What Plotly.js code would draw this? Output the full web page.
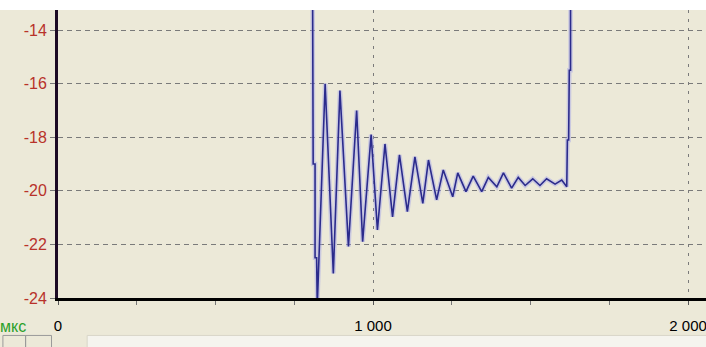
<!DOCTYPE html>
<html>
<head>
<meta charset="utf-8">
<script src="https://cdn.plot.ly/plotly-3.0.1.min.js"></script>
<style>
html,body{margin:0;padding:0;background:#ECE9D8;}
#chart{width:706px;height:347px;}
</style>
</head>
<body>
<div id="chart"></div>
<script>
// time, microseconds
var timeUs = [808, 808, 810, 810, 816, 816, 821, 823,
  848, 874, 895, 922, 948, 967, 994, 1014, 1038, 1062, 1084, 1109, 1133, 1158,
  1176, 1202, 1223, 1253, 1269, 1295, 1318, 1345, 1366, 1393, 1414, 1440,
  1461, 1483, 1507, 1530, 1551, 1578, 1599, 1615, 1617, 1621, 1623, 1627, 1627];
// signal value
var signal = [-12, -15.87, -15.87, -19.0, -19.0, -22.5, -22.5, -24.3,
  -16.0, -23.08, -16.26, -22.08, -17.0, -21.9, -17.9, -21.46, -18.25, -20.97, -18.66, -20.78, -18.73, -20.47,
  -18.85, -20.34, -19.22, -20.22, -19.33, -20.03, -19.45, -20.03, -19.5, -19.85, -19.33, -19.9,
  -19.5, -19.8, -19.55, -19.8, -19.55, -19.75, -19.6, -19.85, -18.1, -18.1, -15.5, -15.5, -12];

var xTickVals = [0, 1000, 2000];
var xTickText = ['0', '1 000', '2 000'];
var yTickVals = [-24, -22, -20, -18, -16, -14];
var yTickText = ['-24', '-22', '-20', '-18', '-16', '-14'];
var xUnit = 'мкс';

var labelFont = 'Liberation Sans, Arial, sans-serif';

var halo = {
  x: timeUs, y: signal, type: 'scatter', mode: 'lines',
  line: {color: 'rgba(160,160,235,0.45)', width: 4.5},
  hoverinfo: 'skip'
};
var trace = {
  x: timeUs, y: signal, type: 'scatter', mode: 'lines',
  line: {color: '#2b2b8c', width: 1.6},
  hoverinfo: 'skip'
};

var layout = {
  width: 706, height: 347,
  margin: {l: 58, r: 0, t: 10, b: 49},
  paper_bgcolor: '#ECE9D8',
  plot_bgcolor: '#ECE9D8',
  showlegend: false,
  font: {family: labelFont, size: 15, color: '#000'},
  xaxis: {
    range: [0, 2057], fixedrange: true,
    tickvals: xTickVals, ticktext: xTickText,
    ticks: 'outside', ticklen: 4, tickcolor: '#555', tickwidth: 1,
    ticklabelstandoff: 8, ticklabeloverflow: 'allow',
    showline: true, linecolor: '#000', linewidth: 3,
    showgrid: true, gridcolor: '#7a7a7a', gridwidth: 1, griddash: '3px,6px',
    zeroline: false,
    tickfont: {family: labelFont, size: 15, color: '#000'},
    minor: {dtick: 250, tick0: 0, ticks: 'outside', ticklen: 4, tickcolor: '#777', showgrid: false}
  },
  yaxis: {
    range: [-24, -13.25], fixedrange: true,
    tickvals: yTickVals, ticktext: yTickText,
    ticks: 'outside', ticklen: 5, tickcolor: '#777', tickwidth: 1,
    ticklabeloverflow: 'allow',
    showline: true, linecolor: '#1c0a24', linewidth: 3,
    showgrid: true, gridcolor: '#7a7a7a', gridwidth: 1, griddash: '5px,4px',
    zeroline: false,
    tickfont: {family: labelFont, size: 16, color: '#b8322a'}
  },
  shapes: [
    {type: 'rect', xref: 'paper', yref: 'paper', x0: -0.1, x1: 1.01, y0: 1.0, y1: 1.05,
     fillcolor: '#ffffff', line: {width: 0}, layer: 'below'},
    {type: 'rect', xref: 'paper', yref: 'paper', x0: 0.045, x1: 1.01, y0: -0.13, y1: -0.18,
     fillcolor: '#F5F4EE', line: {color: '#d8d6c8', width: 1}},
    {type: 'rect', xref: 'paper', yref: 'paper', x0: -0.085, x1: -0.05, y0: -0.13, y1: -0.2,
     fillcolor: 'rgba(0,0,0,0)', line: {color: '#9a9a9a', width: 1}},
    {type: 'rect', xref: 'paper', yref: 'paper', x0: -0.05, x1: -0.01, y0: -0.13, y1: -0.2,
     fillcolor: 'rgba(0,0,0,0)', line: {color: '#9a9a9a', width: 1}}
  ],
  annotations: [
    {text: xUnit, xref: 'paper', yref: 'paper', x: -0.092, y: -0.1, xanchor: 'left', yanchor: 'middle',
     showarrow: false, font: {family: labelFont, size: 16, color: '#2aa02a'}}
  ]
};

Plotly.newPlot('chart', [halo, trace], layout, {staticPlot: true, displayModeBar: false});
</script>
</body>
</html>
